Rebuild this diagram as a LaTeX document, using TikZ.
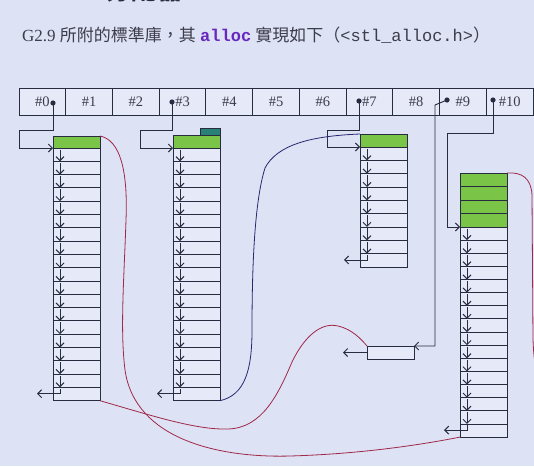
\documentclass[tikz,border=0pt]{standalone}
\usepackage{fontspec}
\setmainfont{Liberation Serif}
\newfontfamily\cjk{Noto Sans CJK TC}
\newfontfamily\kwfont{Liberation Mono}
\usetikzlibrary{arrows.meta,calc}

\definecolor{bgc}{RGB}{221,226,245}
\definecolor{inkc}{RGB}{40,44,64}
\definecolor{txtc}{RGB}{60,60,74}
\definecolor{cellc}{RGB}{229,233,248}
\definecolor{usedc}{RGB}{122,196,72}
\definecolor{tagc}{RGB}{40,128,118}
\definecolor{linkr}{RGB}{160,40,72}
\definecolor{linkb}{RGB}{40,40,110}
\definecolor{kwc}{RGB}{104,40,190}

\tikzset{
  acell/.style={draw=inkc, fill=cellc, line width=0.9pt, rectangle, inner sep=0pt, outer sep=0pt,
    minimum width=46.73pt, minimum height=27pt, anchor=north west, text=txtc,
    font=\fontsize{14.5}{14.5}\selectfont},
  blk/.style={draw=inkc, fill=cellc, line width=0.9pt, rectangle, inner sep=0pt, outer sep=0pt,
    minimum width=47pt, anchor=north west},
  used/.style={blk, fill=usedc},
  barb/.tip={Straight Barb[length=4pt,width=8pt,line width=1pt]},
  nxt/.style={draw=inkc, line width=0.9pt, -barb},
  ent/.style={draw=inkc, line width=0.9pt, -barb},
  curve/.style={line width=0.8pt},
}

% a column of free blocks (#1 name, #2 left, #3 top, #4 count, #5 block height),
% each block linked to the next one, the last one pointing to null
\newcommand\blockcol[5]{%
  \foreach \k in {1,...,#4}{
    \node[blk, minimum height=#5pt] (#1\k) at ({#2},{#3+#5*(\k-1)}) {};
  }
  \pgfmathtruncatemacro\lastk{#4-1}
  \foreach \k in {1,...,\lastk}{
    \pgfmathtruncatemacro\nk{\k+1}
    \draw[nxt] ([xshift=7pt,yshift=-1.5pt]#1\k.north west) -- ([xshift=7pt]#1\nk.north west);
  }
  \draw[nxt] ([xshift=7pt,yshift=-1.5pt]#1#4.north west) |- ([xshift=-16pt,yshift=7pt]#1#4.south west);
}

\begin{document}
\begin{tikzpicture}[x=1pt,y=-1pt]
\fill[bgc] (0,0) rectangle (534,466);
\useasboundingbox (0,0) rectangle (534,466);
\begin{scope}
\clip (0,0) rectangle (534,466);

% slide heading (cut at the top edge) and subtitle
\node[anchor=base west, text=inkc, inner sep=0pt, font=\cjk\bfseries\fontsize{26}{26}\selectfont] (head) at (105,-0.5) {分配器};
\node[anchor=base west, text=txtc, inner sep=0pt] (title) at (22,41) {%
  \fontsize{17}{17}\selectfont G2.9 {\cjk 所附的標準庫，其} {\kwfont\bfseries\color{kwc}alloc} {\cjk 實現如下（}{\kwfont <stl\_alloc.h>}{\cjk ）}};

% free-list heads #0 .. #10
\foreach \i in {0,...,10}{
  \node[acell] (c\i) at ({19+46.73*\i},88) {\#\i};
}
\coordinate (d0) at (53,103);
\coordinate (d3) at (172,102);
\coordinate (d7) at (359,101);
\coordinate (d9) at (447,100);
\coordinate (d10) at (493,100);
\foreach \d in {d0,d3,d7,d9,d10}{
  \fill[inkc] (\d) circle[radius=2.6pt];
}

% list #0: one block in use, nineteen free
\node[used, minimum height=12pt] (A0) at (53,136) {};
\blockcol{A}{53}{148}{19}{13.3}

% list #3: one block in use, nineteen free
\node[used, minimum height=13pt] (B0) at (173,135) {};
\node[blk, fill=tagc, minimum width=20pt, minimum height=7pt, anchor=south east] (Btag) at (B0.north east) {};
\blockcol{B}{173}{148}{19}{13.3}

% list #7: one block in use, nine free
\node[used, minimum height=13pt] (C0) at (360,134) {};
\blockcol{C}{360}{147}{9}{13.33}

% list #10: four blocks in use, sixteen free
\foreach \k in {1,...,4}{
  \node[used, minimum height=13.5pt] (G\k) at (460,{173+13.5*(\k-1)}) {};
}
\blockcol{D}{460}{227}{16}{13.13}

% list #9: a single free block
\node[blk, minimum height=13pt] (S) at (367,346) {};
\draw[nxt] (S.west) -- ([xshift=-24pt]S.west);

% pointers from the heads to their lists
\draw[ent] (d0) -- (53,130) -- (19,130) -- (19,148) -- (A1.north west);
\draw[ent] (d3) -- (172,130) -- (140,130) -- (140,148) -- (B1.north west);
\draw[ent] (d7) -- (359,130) -- (327,130) -- (327,147) -- (C1.north west);
\draw[ent] (d10) -- (493,133) -- (447,133) -- (447,227) -- (D1.north west);
\draw[ent] (d9) -- (435,105) -- (435,346) -- (S.north east);

% chunk boundaries
\draw[curve, draw=linkr] (A0.north east) .. controls (120,140) and (128,170) .. (126,220)
  .. controls (124,280) and (120,330) .. (125,370)
  .. controls (135,440) and (220,458) .. (290,456)
  .. controls (360,454) and (420,445) .. (D16.south west);
\draw[curve, draw=linkr] (A19.south east) .. controls (150,415) and (195,430) .. (228,429)
  .. controls (262,428) and (278,395) .. (292,362)
  .. controls (305,335) and (322,322) .. (338,326)
  .. controls (352,329) and (362,340) .. (S.north west);
\draw[curve, draw=linkb] (B19.south east) .. controls (245,395) and (252,370) .. (252,330)
  .. controls (252,260) and (255,200) .. (265,168)
  .. controls (277,145) and (310,136) .. (C0.north west);
\draw[curve, draw=linkr] (G1.north east) .. controls (522,172) and (531,178) .. (532,195)
  -- (533,340) .. controls (534,360) .. (540,380);
\end{scope}
\end{tikzpicture}
\end{document}
